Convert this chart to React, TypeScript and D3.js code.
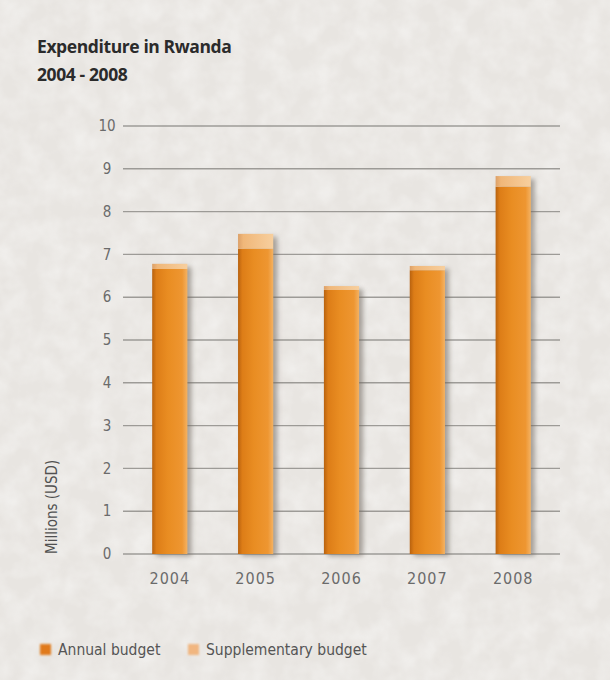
import React from "react";
import * as d3 from "d3";

const years = ["2004", "2005", "2006", "2007", "2008"];
const annualBudget = [6.66, 7.13, 6.17, 6.63, 8.58];
const supplementaryBudget = [0.12, 0.35, 0.09, 0.1, 0.25];
const yTicks = [0, 1, 2, 3, 4, 5, 6, 7, 8, 9, 10];
const titleLines = ["Expenditure in Rwanda", "2004 - 2008"];
const yAxisLabel = "Millions (USD)";
const legendItems = ["Annual budget", "Supplementary budget"];

const W = 610;
const H = 680;
const margin = { left: 123, right: 50, top: 126, bottom: 126 };
const condensed = "'Liberation Sans Narrow', 'DejaVu Sans Condensed', 'Roboto Condensed', 'Roboto', sans-serif";

export default function App() {
  const x = d3
    .scaleBand<string>()
    .domain(years)
    .range([margin.left, W - margin.right])
    .paddingInner(0.59)
    .paddingOuter(0.34);
  const y = d3.scaleLinear().domain([0, 10]).range([H - margin.bottom, margin.top]);
  const bw = x.bandwidth();

  return (
    <div style={{ position: "absolute", left: 0, top: 0 }}>
      <svg width={W} height={H} style={{ display: "block" }}>
        <defs>
          <filter id="paper" x="0" y="0" width="100%" height="100%">
            <feTurbulence type="fractalNoise" baseFrequency="0.045" numOctaves="3" seed="4" result="n" />
            <feColorMatrix
              in="n"
              type="matrix"
              values="0 0 0 0 1  0 0 0 0 1  0 0 0 0 1  0 0 0 -1.1 0.75"
              result="w"
            />
            <feComposite in="w" in2="SourceGraphic" operator="in" />
          </filter>
          <linearGradient id="annualGrad" x1="0" x2="1" y1="0" y2="0">
            <stop offset="0" stopColor="#b8620f" />
            <stop offset="0.12" stopColor="#dd7d17" />
            <stop offset="0.45" stopColor="#e98d22" />
            <stop offset="0.85" stopColor="#ee9631" />
            <stop offset="1" stopColor="#f4b263" />
          </linearGradient>
          <linearGradient id="suppGrad" x1="0" x2="1" y1="0" y2="0">
            <stop offset="0" stopColor="#dca068" />
            <stop offset="0.15" stopColor="#f0b779" />
            <stop offset="1" stopColor="#f7cf9e" />
          </linearGradient>
          <filter id="shadow" x="-30%" y="-10%" width="160%" height="120%">
            <feGaussianBlur stdDeviation="2.5" />
          </filter>
          <filter id="soft" x="-30%" y="-30%" width="160%" height="160%">
            <feGaussianBlur stdDeviation="0.8" />
          </filter>
        </defs>

        <rect x={0} y={0} width={W} height={H} fill="#e8e5e1" />
        <rect x={0} y={0} width={W} height={H} fill="#e8e5e1" filter="url(#paper)" opacity={0.6} />

        {titleLines.map((t, i) => (
          <text
            key={t}
            x={37}
            y={53 + i * 28}
            fontFamily="'Open Sans', 'Noto Sans', sans-serif"
            fontWeight={700}
            fontSize={17.5}
            fill="#2b2b2b"
            letterSpacing={-0.4}
          >
            {t}
          </text>
        ))}

        {yTicks.map((t) => (
          <g key={t}>
            <line
              x1={margin.left}
              x2={W - margin.right}
              y1={y(t)}
              y2={y(t)}
              stroke="#8a8884"
              strokeWidth={1.4}
              opacity={0.8}
            />
            <text
              x={107}
              y={y(t)}
              dy="0.35em"
              textAnchor="middle"
              fontFamily={condensed}
              fontSize={15}
              fill="#6b6b6b"
            >
              {t}
            </text>
          </g>
        ))}

        <text
          transform={`translate(52, ${y(1.1)}) rotate(-90)`}
          textAnchor="middle"
          dy="0.35em"
          fontFamily={condensed}
          fontSize={15}
          fill="#505050"
        >
          {yAxisLabel}
        </text>

        {years.map((yr, i) => {
          const x0 = x(yr)!;
          const a = annualBudget[i];
          const s = supplementaryBudget[i];
          const total = a + s;
          return (
            <g key={yr}>
              <rect
                x={x0 + 4}
                y={y(total) + 3}
                width={bw}
                height={y(0) - y(total) - 1}
                fill="#6d655c"
                opacity={0.55}
                filter="url(#shadow)"
              />
              <rect x={x0} y={y(a)} width={bw} height={y(0) - y(a)} fill="url(#annualGrad)" />
              <rect x={x0} y={y(total)} width={bw} height={y(a) - y(total)} fill="url(#suppGrad)" />
              <text
                x={x0 + bw / 2}
                y={578}
                dy="0.35em"
                textAnchor="middle"
                fontFamily={condensed}
                fontSize={16}
                fill="#6b6b6b"
                letterSpacing={1}
              >
                {yr}
              </text>
            </g>
          );
        })}

        {legendItems.map((lbl, i) => {
          const lx = i === 0 ? 40 : 188;
          return (
            <g key={lbl}>
              <rect
                x={lx}
                y={644}
                width={11}
                height={11}
                fill={i === 0 ? "#e07a1c" : "#f1b680"}
                filter="url(#soft)"
              />
              <text
                x={lx + 18}
                y={650}
                dy="0.35em"
                fontFamily={condensed}
                fontSize={15.5}
                fill="#555"
              >
                {lbl}
              </text>
            </g>
          );
        })}
      </svg>
    </div>
  );
}
